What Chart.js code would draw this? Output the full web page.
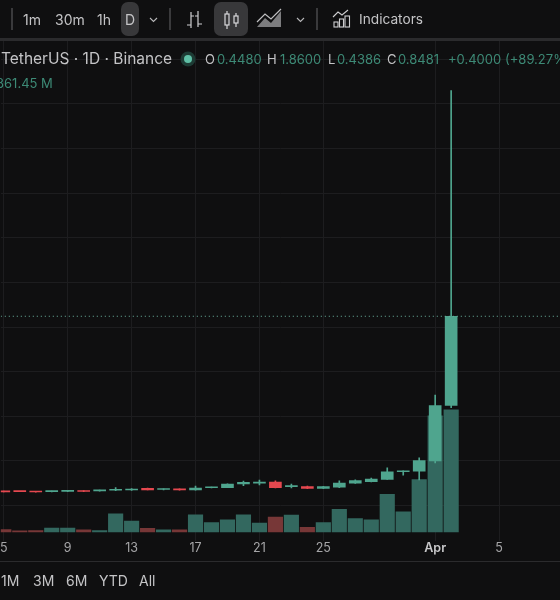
<!DOCTYPE html>
<html><head><meta charset="utf-8">
<script src="https://cdn.jsdelivr.net/npm/chart.js@4"></script>
<style>
html,body{margin:0;padding:0;background:#0f0f10;width:560px;height:600px;overflow:hidden;font-family:Inter,"Noto Sans",sans-serif}
#c{position:absolute;left:0;top:0;display:block}
.t{position:absolute;white-space:nowrap;line-height:1;color:#c4c4c6;transform:translateY(-50%)}
.g{color:#3d8a76}
.box{position:absolute;top:2px;height:34px;background:#38383a;border-radius:7px}
.sep{position:absolute;top:8px;height:22px;width:1.5px;background:#3a3a3c}
.hl{position:absolute;left:0;width:560px;background:#2b2b2d}
svg{position:absolute;overflow:visible}
</style></head><body>
<canvas id="c" width="560" height="600"></canvas>
<div class="hl" style="top:38px;height:3px"></div>
<div class="hl" style="top:561px;height:1px"></div>
<div class="sep" style="left:11px"></div>
<span class="t" style="left:23px;top:20px;font-size:14px">1m</span>
<span class="t" style="left:55px;top:20px;font-size:14px">30m</span>
<span class="t" style="left:97px;top:20px;font-size:14px">1h</span>
<div class="box" style="left:121px;width:18px"></div>
<span class="t" style="left:125px;top:20px;font-size:14px">D</span>
<svg style="left:149px;top:17px" width="9" height="6"><path d="M1 1l3.5 3.5L8 1" fill="none" stroke="#b8b8ba" stroke-width="1.1"/></svg>
<div class="sep" style="left:169px"></div>
<svg style="left:186px;top:10px" width="16" height="20" fill="none" stroke="#cfcfd1" stroke-width="1.2"><path d="M5 2v16M1 15h4M5 6h3M12 1v16M9 6h3M12 14h4"/></svg>
<div class="box" style="left:214px;width:34px"></div>
<svg style="left:224px;top:10px" width="16" height="20" fill="none" stroke="#d8d8da" stroke-width="1.2"><rect x="1" y="4" width="4" height="11"/><path d="M3 1v3M3 15v4"/><rect x="10" y="6" width="4" height="7"/><path d="M12 3v3M12 13v4"/></svg>
<svg style="left:257px;top:9px" width="25" height="19"><path d="M0 18L8 9l6 5L24 2v16z" fill="#7d7d7f"/><path d="M0 13L8 5l6 5L24 0" fill="none" stroke="#c0c0c2" stroke-width="1.2"/></svg>
<svg style="left:296px;top:17px" width="9" height="6"><path d="M1 1l3.5 3.5L8 1" fill="none" stroke="#b8b8ba" stroke-width="1.1"/></svg>
<div class="sep" style="left:316px"></div>
<svg style="left:333px;top:10px" width="18" height="18" fill="none" stroke="#cfcfd1" stroke-width="1.1"><path d="M0 7l5-5 4 3 6-5"/><rect x="1" y="12" width="4" height="5"/><rect x="6.5" y="9" width="4" height="8"/><rect x="12" y="6" width="4.5" height="11"/></svg>
<span class="t" style="left:359px;top:20px;font-size:13.7px">Indicators</span>

<span class="t" style="left:1px;top:59px;font-size:15.5px">TetherUS · 1D · Binance</span>
<svg style="left:180px;top:51px" width="16" height="16"><circle cx="8" cy="8" r="7.5" fill="#1d3b34"/><circle cx="8" cy="8" r="4" fill="#5fc0a6"/></svg>
<span class="t" style="left:205px;top:59px;font-size:13px">O</span><span class="t g" style="left:217px;top:59px;font-size:13px">0.4480</span>
<span class="t" style="left:267px;top:59px;font-size:13px">H</span><span class="t g" style="left:280px;top:59px;font-size:13px">1.8600</span>
<span class="t" style="left:328px;top:59px;font-size:13px">L</span><span class="t g" style="left:337px;top:59px;font-size:13px">0.4386</span>
<span class="t" style="left:387px;top:59px;font-size:13px">C</span><span class="t g" style="left:398px;top:59px;font-size:13px">0.8481</span>
<span class="t g" style="left:448px;top:59px;font-size:13px">+0.4000</span>
<span class="t g" style="left:505px;top:59px;font-size:13px">(+89.27%)</span>
<span class="t g" style="left:-4px;top:83px;font-size:13px">861.45 M</span>

<span class="t" style="left:1px;top:581px;font-size:14px">1M</span>
<span class="t" style="left:33px;top:581px;font-size:14px">3M</span>
<span class="t" style="left:66px;top:581px;font-size:14px">6M</span>
<span class="t" style="left:99px;top:581px;font-size:14px">YTD</span>
<span class="t" style="left:139px;top:581px;font-size:14px">All</span>
<script>
const tickDays = [0, 4, 8, 12, 16, 20, 27, 31];
const tickLabels = ['5', '9', '13', '17', '21', '25', 'Apr', '5'];
const priceTicks = [0, 0.2, 0.4, 0.6, 0.8, 1.0, 1.2, 1.4, 1.6, 1.8, 2.0];
const opens  = [.0640,.0630,.0622,.0615,.0630,.0655,.0655,.0680,.0690,.0765,.0715,.0735,.0695,.0790,.0800,.0960,.1000,.1050,.0845,.0840,.0760,.0820,.1000,.1060,.1170,.1510,.1530,.2000,.4480];
const highs  = [.0645,.0635,.0628,.0640,.0665,.0665,.0690,.0800,.0760,.0775,.0745,.0745,.0870,.0825,.0970,.1090,.1135,.1100,.0960,.0870,.0850,.1100,.1150,.1230,.1680,.1545,.2130,.4950,1.8600];
const lows   = [.0605,.0615,.0590,.0605,.0620,.0615,.0640,.0660,.0670,.0690,.0700,.0680,.0680,.0780,.0790,.0880,.0920,.0785,.0780,.0745,.0750,.0800,.0990,.1050,.1160,.1360,.1140,.1900,.4386];
const closes = [.0610,.0618,.0600,.0630,.0655,.0625,.0680,.0720,.0730,.0700,.0735,.0695,.0780,.0815,.0960,.1030,.1040,.0790,.0865,.0760,.0840,.1000,.1110,.1180,.1510,.1540,.2005,.4480,.8481];
const volumes = [16,8,10,28,28,14,10,128,76,26,14,14,121,66,85,121,62,105,119,33,66,159,95,85,266,142,370,819,861.45];

const upBody='#4fa58e', downBody='#e5484f', upVol='#33685f', downVol='#773737';
const isUp = closes.map((c,i)=>c>=opens[i]);
const xMin=-0.1875, xMax=34.8125;
const bodyColors=isUp.map(u=>u?upBody:downBody);
const isApr=c=>!!c.tick&&tickLabels[tickDays.indexOf(c.tick.value)]==='Apr';
new Chart(document.getElementById('c'),{
  data:{datasets:[
    {type:'bar',order:3,yAxisID:'vol',barThickness:14.5,grouped:false,
     data:volumes.map((v,i)=>({x:i,y:v})),backgroundColor:isUp.map(u=>u?upVol:downVol)},
    {type:'bar',order:2,yAxisID:'price',barThickness:1,grouped:false,
     data:lows.map((l,i)=>({x:i,y:[l,highs[i]]})),backgroundColor:bodyColors},
    {type:'bar',order:1,yAxisID:'price',barThickness:12,grouped:false,minBarLength:1,
     data:opens.map((o,i)=>({x:i,y:[o,closes[i]]})),backgroundColor:bodyColors},
    {type:'line',order:0,yAxisID:'price',pointRadius:0,borderWidth:1,borderDash:[1,3],borderColor:'#6db5a0',
     data:[{x:xMin,y:closes[closes.length-1]},{x:xMax,y:closes[closes.length-1]}]}
  ]},
  options:{
    responsive:false,animation:false,
    layout:{autoPadding:false,padding:{top:41,bottom:39,left:0,right:0}},
    plugins:{legend:{display:false},tooltip:{enabled:false}},
    scales:{
      x:{type:'linear',min:xMin,max:xMax,offset:false,
        afterBuildTicks:s=>{s.ticks=tickDays.map(v=>({value:v}));},
        afterFit:s=>{s.height=20;},
        grid:{color:'#1d1d1f',drawTicks:false,offset:false},border:{display:false},
        ticks:{autoSkip:false,maxRotation:0,padding:0,
          callback:v=>tickLabels[tickDays.indexOf(v)],
          color:c=>isApr(c)?'#c8c8ca':'#a6a6a8',
          font:c=>({family:'Inter',size:12.5,weight:isApr(c)?'600':'400'})}},
      price:{type:'linear',position:'left',min:-0.1596,max:2.0825,
        afterBuildTicks:s=>{s.ticks=priceTicks.map(v=>({value:v}));},
        afterFit:s=>{s.width=0;},
        grid:{color:'#1d1d1f',drawTicks:false},border:{display:false},ticks:{display:false}},
      vol:{type:'linear',position:'right',min:-64,max:3466,display:false}
    }
  }
});
</script>
</body></html>
